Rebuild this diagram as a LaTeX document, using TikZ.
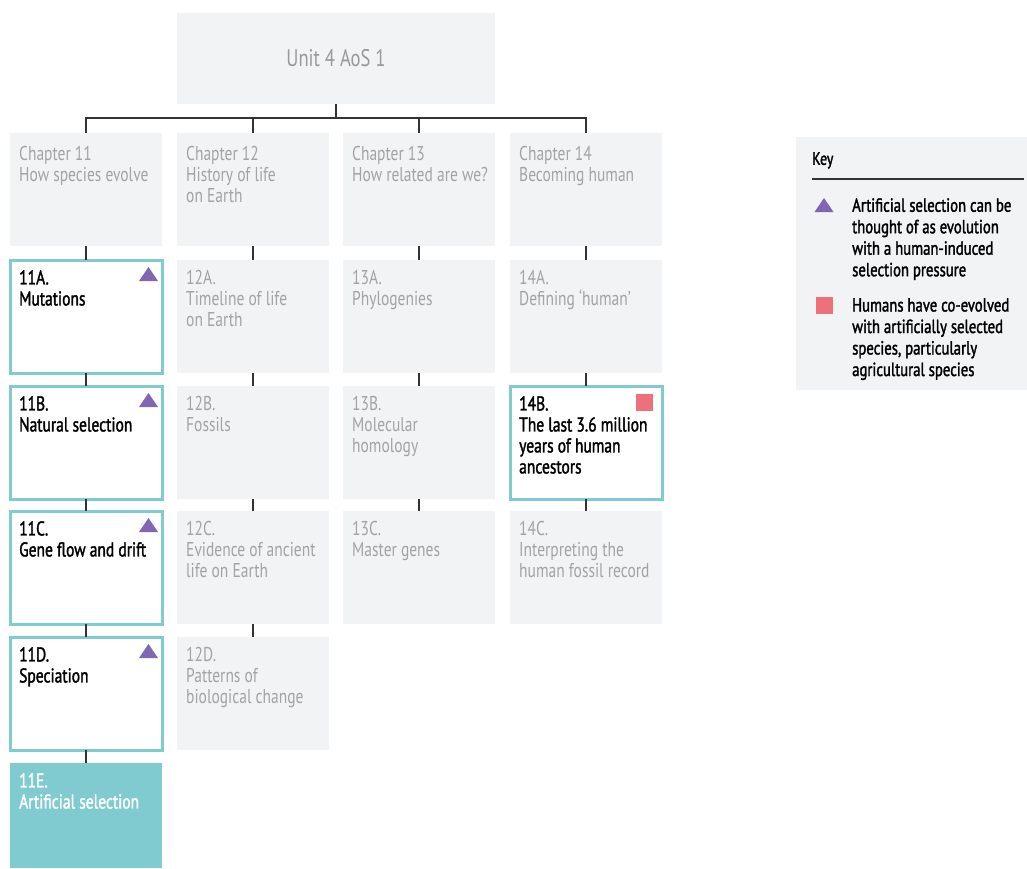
\documentclass[tikz,border=0pt]{standalone}
\usepackage{fontspec}
\setmainfont[FakeStretch=0.775]{PT Sans}
\newfontfamily\semib[FakeStretch=0.775, FakeBold=1.6]{PT Sans}

\definecolor{boxgrey}{HTML}{F2F3F4}
\definecolor{txtgrey}{HTML}{A3A3A3}
\definecolor{titlegrey}{HTML}{999999}
\definecolor{teal}{HTML}{80CBCF}
\definecolor{keypurple}{HTML}{8166B2}
\definecolor{keypink}{HTML}{EE707B}
\definecolor{wire}{HTML}{333333}

\tikzset{
    tri/.pic={\fill[keypurple] (-9.5,7) -- (9.5,7) -- (0,-7) -- cycle;},
    sq/.pic={\fill[keypink] (-8.5,-8.5) rectangle (8.5,8.5);}
}

\begin{document}
\begin{tikzpicture}[x=1pt, y=-1pt,
    box/.style={rectangle, fill=boxgrey, minimum width=152, minimum height=113, anchor=north west, inner sep=0, outer sep=0},
    lbl/.style={anchor=north west, xshift=9, yshift=-10, inner sep=0, align=left},
    chapter/.style={box, label={[lbl, yshift=-3.5, text=txtgrey, font=\fontsize{20}{21}\selectfont]north west:{#1}}},
    topic/.style={box, label={[lbl, text=txtgrey, font=\fontsize{20}{21}\selectfont]north west:{#1}}},
    chosen/.style={box, fill=white, draw=teal, line width=3, label={[lbl, text=black, font=\semib\fontsize{20}{21}\selectfont]north west:{#1}}},
    current/.style={box, fill=teal, minimum height=105, label={[lbl, text=white, font=\semib\fontsize{20}{21}\selectfont]north west:{#1}}},
    wire/.style={draw=wire, line width=1.5},
    keytxt/.style={anchor=north west, inner sep=0, align=left, font=\semib\fontsize{19}{21.5}\selectfont}
]
    \useasboundingbox (0,0) rectangle (1027,868);

    % unit and chapters
    \node[box, minimum width=318, minimum height=91, text=titlegrey, font=\fontsize{24}{28}\selectfont] (unit) at (177,13) {Unit 4 AoS 1};
    \node[chapter={Chapter 11\\How species evolve}] (c11) at (10,133) {};
    \node[chapter={Chapter 12\\History of life\\on Earth}] (c12) at (177,133) {};
    \node[chapter={Chapter 13\\How related are we?}] (c13) at (343,133) {};
    \node[chapter={Chapter 14\\Becoming human}] (c14) at (510,133) {};

    % chapter 11
    \node[chosen={11A.\\Mutations}] (s11a) at (10,260) {};
    \node[chosen={11B.\\Natural selection}] (s11b) at (10,386) {};
    \node[chosen={11C.\\Gene flow and drift}] (s11c) at (10,511) {};
    \node[chosen={11D.\\Speciation}] (s11d) at (10,637) {};
    \node[current={11E.\\Artificial selection}] (s11e) at (10,763) {};

    % chapter 12
    \node[topic={12A.\\Timeline of life\\on Earth}] (s12a) at (177,260) {};
    \node[topic={12B.\\Fossils}] (s12b) at (177,386) {};
    \node[topic={12C.\\Evidence of ancient\\life on Earth}] (s12c) at (177,511) {};
    \node[topic={12D.\\Patterns of\\biological change}] (s12d) at (177,637) {};

    % chapter 13
    \node[topic={13A.\\Phylogenies}] (s13a) at (343,260) {};
    \node[topic={13B.\\Molecular\\homology}] (s13b) at (343,386) {};
    \node[topic={13C.\\Master genes}] (s13c) at (343,511) {};

    % chapter 14
    \node[topic={14A.\\Defining `human'}] (s14a) at (510,260) {};
    \node[chosen={14B.\\The last 3.6 million\\years of human\\ancestors}] (s14b) at (510,386) {};
    \node[topic={14C.\\Interpreting the\\human fossil record}] (s14c) at (510,511) {};

    % tree lines
    \coordinate (bus) at (336,118);
    \draw[wire] (unit) -- (bus);
    \foreach \c in {c11,c12,c13,c14}
        \draw[wire] (bus) -| (\c);
    \draw[wire] (c11) -- (s11a) (s11a) -- (s11b) (s11b) -- (s11c) (s11c) -- (s11d) (s11d) -- (s11e);
    \draw[wire] (c12) -- (s12a) (s12a) -- (s12b) (s12b) -- (s12c) (s12c) -- (s12d);
    \draw[wire] (c13) -- (s13a) (s13a) -- (s13b) (s13b) -- (s13c);
    \draw[wire] (c14) -- (s14a) (s14a) -- (s14b) (s14b) -- (s14c);

    % markers
    \foreach \s in {s11a,s11b,s11c,s11d}
        \pic at ([shift={(-13.5,14)}]\s.north east) {tri};
    \pic at ([shift={(-17.5,16)}]s14b.north east) {sq};

    % key
    \node[box, minimum width=231, minimum height=253] (key) at (796,137) {};
    \node[anchor=north west, inner sep=0, font=\semib\fontsize{18}{20}\selectfont] (keyhead) at (812,152) {Key};
    \draw[wire, line width=1.2] ([shift={(16,42)}]key.north west) -- ([shift={(-3,42)}]key.north east);
    \pic at (824,205) {tri};
    \node[keytxt] (ktri) at (852,198) {Artificial selection can be\\thought of as evolution\\with a human-induced\\selection pressure};
    \pic at (824.5,305) {sq};
    \node[keytxt] (ksq) at (852,298) {Humans have co-evolved\\with artificially selected\\species, particularly\\agricultural species};
\end{tikzpicture}
\end{document}
